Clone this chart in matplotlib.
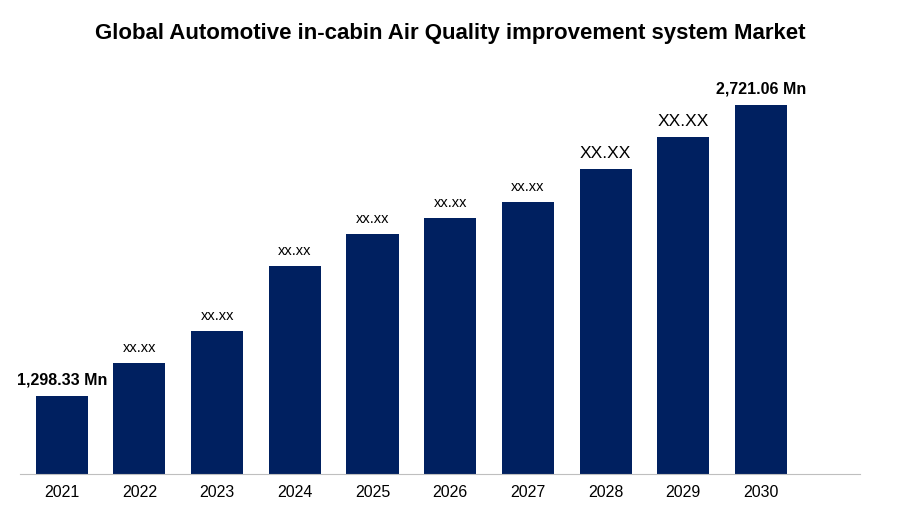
import matplotlib.pyplot as plt

years = ['2021', '2022', '2023', '2024', '2025', '2026', '2027', '2028', '2029', '2030']
values = [1298.33, 1460, 1616, 1934, 2090, 2169, 2247, 2408, 2565, 2721.06]
labels = ['1,298.33 Mn', 'xx.xx', 'xx.xx', 'xx.xx', 'xx.xx', 'xx.xx', 'xx.xx', 'XX.XX', 'XX.XX', '2,721.06 Mn']

plt.rcParams['font.family'] = 'Liberation Sans'

fig = plt.figure(figsize=(9, 5.25), dpi=100)
ax = fig.add_axes([0.022, 0.097, 0.934, 0.789])
x = range(len(years))
ax.bar(x, values, width=0.67, color='#002060')
base = 917
ax.set_ylim(base, 2941)
ax.set_xlim(-0.54, 10.28)

for i, (v, lab) in enumerate(zip(values, labels)):
    if 'Mn' in lab:
        ax.text(i, v + 40, lab, ha='center', va='bottom', fontsize=11.5, fontweight='bold')
    elif lab.isupper():
        ax.text(i, v + 40, lab, ha='center', va='bottom', fontsize=12.5)
    else:
        ax.text(i, v + 40, lab, ha='center', va='bottom', fontsize=10.5)

ax.set_xticks(list(x))
ax.set_xticklabels(years, fontsize=11.5)
ax.set_yticks([])
for s in ['top', 'right', 'left']:
    ax.spines[s].set_visible(False)
ax.spines['bottom'].set_color('#bfbfbf')
ax.tick_params(axis='x', length=0, pad=8)

fig.suptitle('Global Automotive in-cabin Air Quality improvement system Market',
             x=0.5, y=0.957, fontsize=16, fontweight='bold')

fig.savefig('out.png', dpi=100)
